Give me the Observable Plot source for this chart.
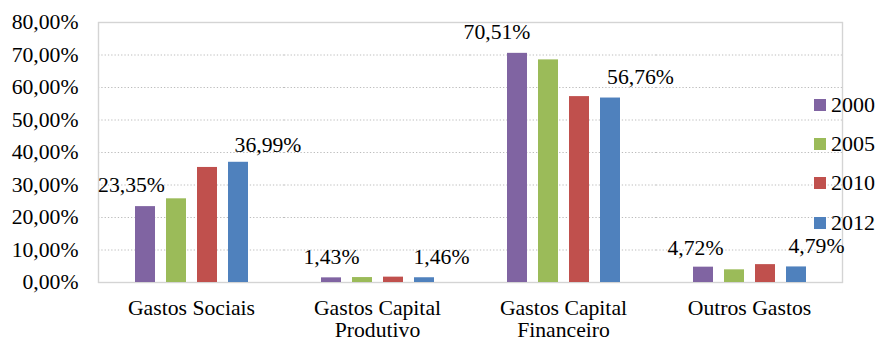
<!DOCTYPE html>
<html>
<head>
<meta charset="utf-8">
<script src="https://cdn.jsdelivr.net/npm/d3@7"></script>
<script src="https://cdn.jsdelivr.net/npm/@observablehq/plot@0.6"></script>
<style>
  body { margin: 0; background: #fff; }
  #chart { position: relative; width: 878px; height: 342px; color: #000; }
  #chart, #chart svg, #chart svg text, #chart svg tspan {
    font-family: "Liberation Serif", "DejaVu Serif", serif !important;
  }
  #legend { position: absolute; left: 814px; top: 85px; }
  .item { display: flex; align-items: center; height: 39.3px; font-size: 22px; line-height: 1; }
  .sw { width: 12px; height: 12px; margin-right: 5px; flex: none; }
</style>
</head>
<body>
<div id="chart"><div id="legend"></div></div>
<script>
// Expense categories and their axis labels
const categories = ["Gastos Sociais", "Gastos Capital Produtivo", "Gastos Capital Financeiro", "Outros Gastos"];
const categoryLabels = ["Gastos Sociais", "Gastos Capital\nProdutivo", "Gastos Capital\nFinanceiro", "Outros Gastos"];

// Years (series) and their colours
const years = ["2000", "2005", "2010", "2012"];
const yearColors = ["#8064A2", "#9BBB59", "#C0504D", "#4F81BD"];

// Share of spending (%) per category, one array per year
const v2000 = [23.35, 1.43, 70.51, 4.72];
const v2005 = [25.75, 1.52, 68.50, 3.90];
const v2010 = [35.40, 1.65, 57.20, 5.50];
const v2012 = [36.99, 1.46, 56.76, 4.79];

// Value axis ticks
const yTicks = [0, 10, 20, 30, 40, 50, 60, 70, 80];

const series = [v2000, v2005, v2010, v2012];
const rows = categories.flatMap((c, i) => years.map((y, j) => ({category: c, year: y, value: series[j][i]})));

const pct = d => d.toFixed(2).replace(".", ",") + "%";

// Value labels are shown on the first and last year of each group,
// nudged off the bar tops (pixel offsets, text centre relative to bar top).
const labelNudge = {
  "2000": [[-14, -22], [0, -21], [-20.5, -21], [-8, -19]],
  "2012": [[29.5, -17], [17, -21], [30, -20.5], [20, -21]]
};
const labelMarks = rows
  .filter(r => r.year in labelNudge)
  .map(r => {
    const [dx, dy] = labelNudge[r.year][categories.indexOf(r.category)];
    return Plot.text([r], {fx: "category", x: "year", y: "value", text: d => pct(d.value), dx, dy, fill: "#000"});
  });

const fontSize = 21.7;

const plot = Plot.plot({
  width: 878,
  height: 342,
  marginLeft: 97,
  marginRight: 35,
  marginTop: 22,
  marginBottom: 60,
  style: {fontSize: fontSize + "px", color: "#000", background: "transparent", overflow: "visible"},
  fx: {domain: categories, padding: 0, label: null},
  x: {domain: years, paddingInner: 0.36, paddingOuter: 1.12, axis: null},
  y: {domain: [0, 80], label: null},
  color: {domain: years, range: yearColors},
  marks: [
    Plot.ruleY(yTicks.filter(t => t > 0 && t < 80), {stroke: "#bdbdbd", strokeWidth: 1, strokeDasharray: "1.3,2"}),
    Plot.frame({facet: "super", stroke: "#d4d4d4", strokeWidth: 1.4}),
    Plot.barY(rows, {fx: "category", x: "year", y: "value", fill: "year"}),
    ...labelMarks,
    Plot.axisY({ticks: yTicks, tickFormat: pct, tickSize: 0, tickPadding: 20, label: null, fill: "#000"}),
    Plot.axisFx({anchor: "bottom", tickSize: 0, tickPadding: 17.5, label: null, lineHeight: 1.0, fill: "#000",
      tickFormat: d => categoryLabels[categories.indexOf(d)]})
  ]
});
plot.setAttribute("font-family", "Liberation Serif, DejaVu Serif, serif");

const chart = document.getElementById("chart");
chart.insertBefore(plot, chart.firstChild);

// Year legend at the right edge
const legend = d3.select("#legend");
years.forEach((y, i) => {
  const item = legend.append("div").attr("class", "item");
  item.append("div").attr("class", "sw").style("background", yearColors[i]);
  item.append("span").text(y);
});
</script>
</body>
</html>
